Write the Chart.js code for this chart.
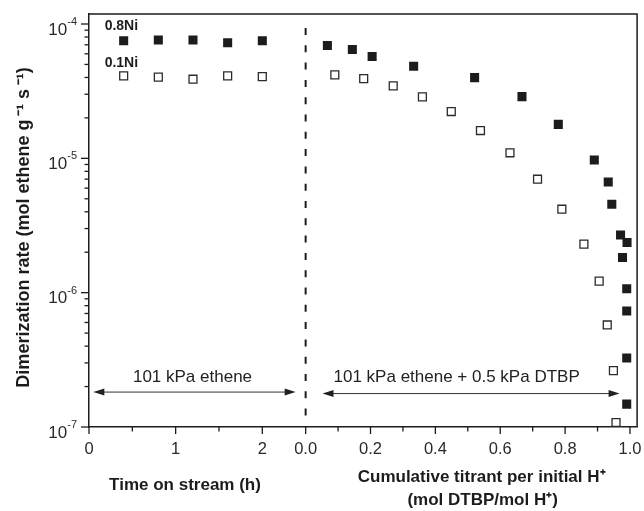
<!DOCTYPE html>
<html>
<head>
<meta charset="utf-8">
<script src="https://cdn.jsdelivr.net/npm/chart.js@4.4.1/dist/chart.umd.min.js"></script>
<style>
  html, body { margin: 0; padding: 0; background: #fff; }
</style>
</head>
<body>
<canvas id="chart" width="644" height="511"></canvas>
<script>
// left panel: time on stream (h)
const timeOnStream = [0.4, 0.8, 1.2, 1.6, 2.0];
const rateTime08Ni = [7.5e-5, 7.6e-5, 7.6e-5, 7.25e-5, 7.5e-5];
const rateTime01Ni = [4.11e-5, 4.02e-5, 3.88e-5, 4.11e-5, 4.06e-5];

// right panel: cumulative titrant per initial H+
const titrant08Ni = [0.067, 0.144, 0.205, 0.333, 0.521, 0.667, 0.779, 0.890, 0.933, 0.944, 0.971, 0.991, 0.977, 0.99, 0.99, 0.99, 0.99];
const rateTitr08Ni = [6.91e-5, 6.45e-5, 5.72e-5, 4.85e-5, 3.99e-5, 2.88e-5, 1.79e-5, 9.73e-6, 6.67e-6, 4.55e-6, 2.69e-6, 2.36e-6, 1.83e-6, 1.07e-6, 7.31e-7, 3.26e-7, 1.48e-7];
const titrant01Ni = [0.090, 0.179, 0.270, 0.360, 0.449, 0.539, 0.630, 0.715, 0.790, 0.858, 0.905, 0.930, 0.949, 0.957];
const rateTitr01Ni = [4.18e-5, 3.92e-5, 3.46e-5, 2.87e-5, 2.23e-5, 1.61e-5, 1.10e-5, 6.99e-6, 4.18e-6, 2.30e-6, 1.22e-6, 5.75e-7, 2.63e-7, 1.08e-7];

// tick labels
const timeTicks = [0, 1, 2];
const titrantTicks = [0.0, 0.2, 0.4, 0.6, 0.8, 1.0];
const yDecades = [-7, -6, -5, -4];

const FONT = "'Liberation Sans', Arial, sans-serif";
const INK = "#1c1c1c";
Chart.defaults.font.family = FONT;
Chart.defaults.color = INK;

const pts = (xs, ys) => xs.map((x, i) => ({ x: x, y: ys[i] }));

const filled = { pointStyle: "rect", pointRadius: 6.4, pointHoverRadius: 6.4, backgroundColor: INK, borderColor: INK, borderWidth: 0, showLine: false };
const open = { pointStyle: "rect", pointRadius: 5.6, pointHoverRadius: 5.6, backgroundColor: "#fff", borderColor: "#2a2a2a", borderWidth: 1.3, showLine: false };

function withMinor(majors, step) {
  const out = [];
  majors.forEach((v, i) => {
    out.push(v);
    if (i < majors.length - 1) out.push(+(v + step).toFixed(3));
  });
  return out;
}

function drawArrow(ctx, x1, x2, y) {
  ctx.beginPath();
  ctx.moveTo(x1 + 8, y);
  ctx.lineTo(x2 - 8, y);
  ctx.stroke();
  ctx.beginPath();
  ctx.moveTo(x1, y); ctx.lineTo(x1 + 11, y - 3.5); ctx.lineTo(x1 + 11, y + 3.5); ctx.closePath();
  ctx.moveTo(x2, y); ctx.lineTo(x2 - 11, y - 3.5); ctx.lineTo(x2 - 11, y + 3.5); ctx.closePath();
  ctx.fill();
}

const decorations = {
  id: "decorations",
  afterDraw(chart) {
    const { ctx, chartArea: a, scales } = chart;
    const y = scales.y, xt = scales.xTime, xr = scales.xTitr;
    ctx.save();
    ctx.strokeStyle = INK;
    ctx.fillStyle = INK;
    ctx.lineWidth = 1.5;

    // frame top/right
    ctx.beginPath();
    ctx.moveTo(a.left, a.top);
    ctx.lineTo(a.right, a.top);
    ctx.lineTo(a.right, a.bottom);
    ctx.stroke();

    // y ticks, major + minor
    ctx.lineWidth = 1.3;
    yDecades.forEach(d => {
      for (let k = 1; k <= 9; k++) {
        const v = k * Math.pow(10, d);
        if (v > y.max) break;
        const py = y.getPixelForValue(v);
        const len = k === 1 ? 8 : 4.5;
        ctx.beginPath(); ctx.moveTo(a.left - len, py); ctx.lineTo(a.left, py); ctx.stroke();
      }
    });

    // x ticks and labels
    ctx.textAlign = "center";
    ctx.textBaseline = "middle";
    ctx.fillStyle = "#2a2a2a";
    ctx.font = "16.5px " + FONT;
    [[xt, timeTicks, v => String(v)], [xr, titrantTicks, v => v.toFixed(1)]].forEach(([sc, majors, fmt]) => {
      sc.ticks.forEach(t => {
        const px = sc.getPixelForValue(t.value);
        const major = majors.includes(t.value);
        const len = major ? 7 : 4.5;
        ctx.beginPath(); ctx.moveTo(px, a.bottom); ctx.lineTo(px, a.bottom + len); ctx.stroke();
        if (major) ctx.fillText(fmt(t.value), px, a.bottom + 22);
      });
    });

    // y tick labels 10^n
    ctx.textAlign = "left";
    yDecades.forEach(d => {
      const py = y.getPixelForValue(Math.pow(10, d));
      const exp = String(d);
      ctx.font = "11px " + FONT;
      const we = ctx.measureText(exp).width;
      ctx.font = "17px " + FONT;
      const wb = ctx.measureText("10").width;
      const right = a.left - 12;
      ctx.fillText("10", right - we - wb, py + 6);
      ctx.font = "11px " + FONT;
      ctx.fillText(exp, right - we, py - 2);
    });

    // dashed separator between panels
    const sx = xr.getPixelForValue(0);
    ctx.strokeStyle = INK;
    ctx.lineWidth = 2;
    ctx.setLineDash([7, 10.3]);
    ctx.beginPath();
    ctx.moveTo(sx, a.top + 14);
    ctx.lineTo(sx, a.bottom);
    ctx.stroke();
    ctx.setLineDash([]);

    // series labels
    ctx.fillStyle = INK;
    ctx.font = "bold 14px " + FONT;
    ctx.fillText("0.8Ni", xt.getPixelForValue(timeOnStream[0]) - 19, y.getPixelForValue(rateTime08Ni[0]) - 15);
    ctx.fillText("0.1Ni", xt.getPixelForValue(timeOnStream[0]) - 19, y.getPixelForValue(rateTime01Ni[0]) - 13);

    // condition arrows
    ctx.lineWidth = 1;
    ctx.strokeStyle = "#333";
    ctx.fillStyle = "#222";
    const ay = y.getPixelForValue(1.82e-7);
    const ty = y.getPixelForValue(2.36e-7);
    drawArrow(ctx, xt.getPixelForValue(0.05), xt.getPixelForValue(2.385), ay);
    drawArrow(ctx, xr.getPixelForValue(0.052), xr.getPixelForValue(0.968), ay + 1.5);
    ctx.font = "17px " + FONT;
    ctx.fillText("101 kPa ethene", xt.getPixelForValue(0.507), ty);
    ctx.fillText("101 kPa ethene + 0.5 kPa DTBP", xr.getPixelForValue(0.086), ty);

    // axis titles
    ctx.fillStyle = INK;
    ctx.font = "bold 17px " + FONT;
    ctx.textAlign = "center";
    ctx.fillText("Time on stream (h)", xt.left + 96, a.bottom + 58);
    ctx.fillText("Cumulative titrant per initial H\u207A", xr.left + 176, a.bottom + 50);
    ctx.fillText("(mol DTBP/mol H\u207A)", xr.left + 177, a.bottom + 73);

    ctx.save();
    ctx.translate(24, (a.top + a.bottom) / 2 + 7);
    ctx.rotate(-Math.PI / 2);
    ctx.font = "bold 18px " + FONT;
    ctx.fillText("Dimerization rate (mol ethene g\u2009\u207B\u00B9 s\u2009\u207B\u00B9)", 0, 0);
    ctx.restore();

    ctx.restore();
  }
};

const xCommon = {
  type: "linear",
  position: "bottom",
  stack: "x",
  grid: { display: false, drawTicks: false },
  border: { display: true, color: INK, width: 1.5 },
  ticks: { display: false },
  afterFit: s => { s.height = 84; }
};

new Chart(document.getElementById("chart"), {
  type: "scatter",
  data: {
    datasets: [
      Object.assign({ label: "0.8Ni", xAxisID: "xTime", data: pts(timeOnStream, rateTime08Ni) }, filled),
      Object.assign({ label: "0.1Ni", xAxisID: "xTime", data: pts(timeOnStream, rateTime01Ni) }, open),
      Object.assign({ label: "0.8Ni titr", xAxisID: "xTitr", data: pts(titrant08Ni, rateTitr08Ni) }, filled),
      Object.assign({ label: "0.1Ni titr", xAxisID: "xTitr", data: pts(titrant01Ni, rateTitr01Ni) }, open)
    ]
  },
  options: {
    responsive: false,
    animation: false,
    devicePixelRatio: 1,
    layout: { padding: { top: 14, right: 6, left: 0, bottom: 0 } },
    plugins: { legend: { display: false }, tooltip: { enabled: false } },
    scales: {
      xTime: Object.assign({}, xCommon, {
        stackWeight: 217,
        min: 0,
        max: 2.5,
        afterBuildTicks: s => { s.ticks = withMinor(timeTicks, 0.5).map(v => ({ value: v })); }
      }),
      xTitr: Object.assign({}, xCommon, {
        stackWeight: 332,
        min: 0,
        max: 1.022,
        afterBuildTicks: s => { s.ticks = withMinor(titrantTicks, 0.1).map(v => ({ value: v })); }
      }),
      y: {
        type: "logarithmic",
        position: "left",
        min: 1e-7,
        max: 1.187e-4,
        grid: { display: false, drawTicks: false },
        border: { display: true, color: INK, width: 1.5 },
        ticks: { display: false },
        afterFit: s => { s.width = 89; }
      }
    }
  },
  plugins: [decorations]
});
</script>
</body>
</html>
